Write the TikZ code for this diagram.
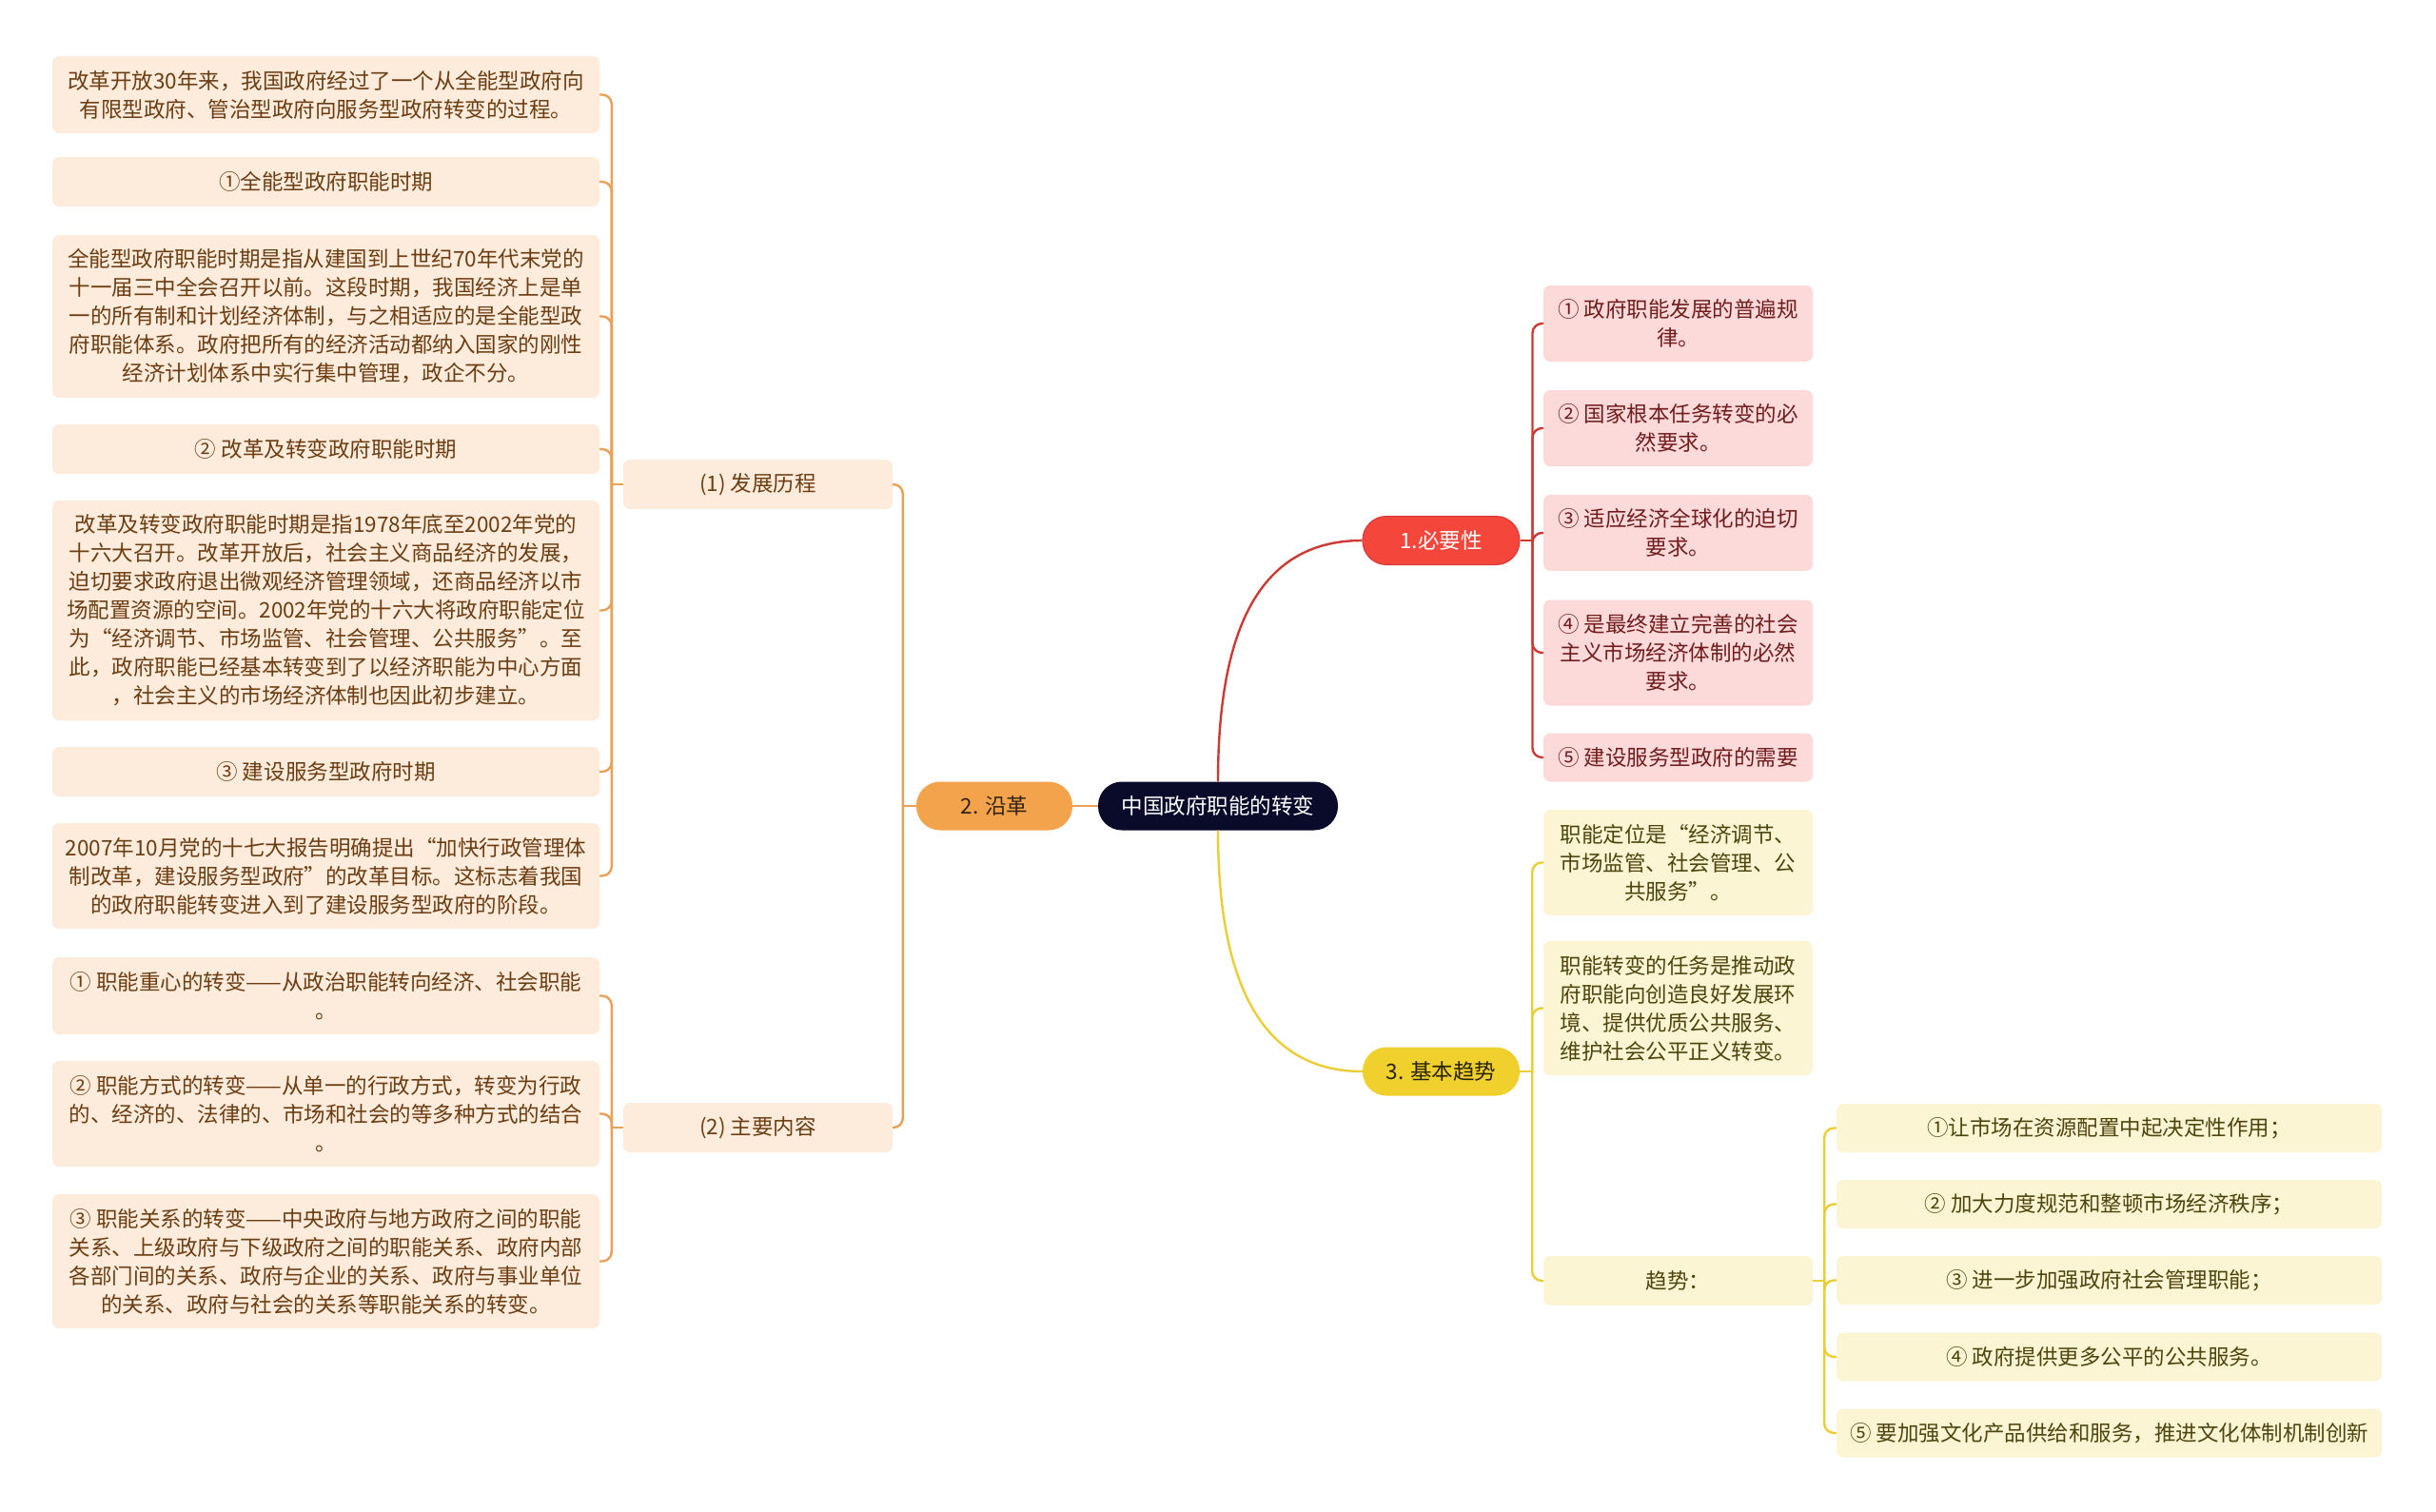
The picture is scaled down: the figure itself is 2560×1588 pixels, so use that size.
\documentclass[tikz,border=0pt]{standalone}
\usepackage{fontspec}
\setmainfont{Noto Sans CJK SC}
\definecolor{peach}{RGB}{253,236,220}
\definecolor{peachtxt}{RGB}{108,60,18}
\definecolor{orline}{RGB}{234,160,86}
\definecolor{pinkbox}{RGB}{252,218,218}
\definecolor{pinktxt}{RGB}{112,28,28}
\definecolor{redline}{RGB}{205,58,52}
\definecolor{creambox}{RGB}{252,245,212}
\definecolor{creamtxt}{RGB}{78,68,14}
\definecolor{yelline}{RGB}{236,206,52}
\definecolor{navy}{RGB}{10,10,42}
\definecolor{rednode}{RGB}{245,70,60}
\definecolor{ornode}{RGB}{244,163,77}
\definecolor{yelnode}{RGB}{240,208,45}
\tikzset{
  base/.style={font=\fontsize{22.5}{30}\selectfont, align=center, inner sep=0pt, anchor=center},
  lbox/.style={base, fill=peach, text=peachtxt, rounded corners=7pt, minimum width=575pt},
  midbox/.style={base, fill=peach, text=peachtxt, rounded corners=7pt, minimum width=283pt, minimum height=52pt},
  pbox/.style={base, fill=pinkbox, text=pinktxt, rounded corners=7pt, minimum width=283pt},
  ybox/.style={base, fill=creambox, text=creamtxt, rounded corners=7pt, minimum width=283pt},
  wbox/.style={base, fill=creambox, text=creamtxt, rounded corners=7pt, minimum width=573pt, minimum height=51pt},
  pill/.style={base, rounded corners=25pt, minimum height=51pt},
  orc/.style={draw=orline, line width=2.4pt, rounded corners=10pt},
  redc/.style={draw=redline, line width=2.4pt, rounded corners=10pt},
  yelc/.style={draw=yelline, line width=2.4pt, rounded corners=10pt},
}
\begin{document}
\begin{tikzpicture}[x=1pt,y=-1pt]
\fill[white] (0,0) rectangle (2560,1588);
\useasboundingbox (0,0) rectangle (2560,1588);

% center and main branches
\node[pill, fill=navy, text=white, minimum width=252pt] (ctr) at (1280,847) {中国政府职能的转变};
\node[pill, fill=ornode, text={rgb,255:red,50;green,35;blue,15}, minimum width=164pt] (yan) at (1045,847) {2. 沿革};
\node[pill, fill=rednode, draw={rgb,255:red,215;green,55;blue,50}, line width=1pt, text=white, minimum width=165pt] (nec) at (1514.5,568) {1.必要性};
\node[pill, fill=yelnode, text={rgb,255:red,40;green,35;blue,10}, minimum width=165pt] (trd) at (1514.5,1126) {3. 基本趋势};

% left mid nodes
\node[midbox] (fz) at (796.5,509) {(1) 发展历程};
\node[midbox] (zy) at (796.5,1185) {(2) 主要内容};

% left column
\node[lbox, minimum height=81pt] (b1) at (342.5,99.5) {改革开放30年来，我国政府经过了一个从全能型政府向\\有限型政府、管治型政府向服务型政府转变的过程。};
\node[lbox, minimum height=52pt] (b2) at (342.5,191) {①全能型政府职能时期};
\node[lbox, minimum height=171pt] (b3) at (342.5,332.5) {全能型政府职能时期是指从建国到上世纪70年代末党的\\十一届三中全会召开以前。这段时期，我国经济上是单\\一的所有制和计划经济体制，与之相适应的是全能型政\\府职能体系。政府把所有的经济活动都纳入国家的刚性\\经济计划体系中实行集中管理，政企不分。};
\node[lbox, minimum height=52pt] (b4) at (342.5,472) {② 改革及转变政府职能时期};
\node[lbox, minimum height=231pt] (b5) at (342.5,641.5) {改革及转变政府职能时期是指1978年底至2002年党的\\十六大召开。改革开放后，社会主义商品经济的发展，\\迫切要求政府退出微观经济管理领域，还商品经济以市\\场配置资源的空间。2002年党的十六大将政府职能定位\\为“经济调节、市场监管、社会管理、公共服务”。至\\此，政府职能已经基本转变到了以经济职能为中心方面\\，社会主义的市场经济体制也因此初步建立。};
\node[lbox, minimum height=52pt] (b6) at (342.5,811) {③ 建设服务型政府时期};
\node[lbox, minimum height=111pt] (b7) at (342.5,920.5) {2007年10月党的十七大报告明确提出“加快行政管理体\\制改革，建设服务型政府”的改革目标。这标志着我国\\的政府职能转变进入到了建设服务型政府的阶段。};
\node[lbox, minimum height=81pt] (b8) at (342.5,1046.5) {① 职能重心的转变——从政治职能转向经济、社会职能\\。};
\node[lbox, minimum height=111pt] (b9) at (342.5,1170.5) {② 职能方式的转变——从单一的行政方式，转变为行政\\的、经济的、法律的、市场和社会的等多种方式的结合\\。};
\node[lbox, minimum height=141pt] (b10) at (342.5,1325.5) {③ 职能关系的转变——中央政府与地方政府之间的职能\\关系、上级政府与下级政府之间的职能关系、政府内部\\各部门间的关系、政府与企业的关系、政府与事业单位\\的关系、政府与社会的关系等职能关系的转变。};

% pink column
\node[pbox, minimum height=80pt] (pa) at (1763.5,340) {① 政府职能发展的普遍规\\律。};
\node[pbox, minimum height=80pt] (pb) at (1763.5,450) {② 国家根本任务转变的必\\然要求。};
\node[pbox, minimum height=80pt] (pc) at (1763.5,560) {③ 适应经济全球化的迫切\\要求。};
\node[pbox, minimum height=111pt] (pd) at (1763.5,686) {④ 是最终建立完善的社会\\主义市场经济体制的必然\\要求。};
\node[pbox, minimum height=51pt] (pe) at (1763.5,796) {⑤ 建设服务型政府的需要};

% yellow column
\node[ybox, minimum height=111pt] (yf) at (1763.5,906.5) {职能定位是“经济调节、\\市场监管、社会管理、公\\共服务”。};
\node[ybox, minimum height=141pt] (yg) at (1763.5,1059.5) {职能转变的任务是推动政\\府职能向创造良好发展环\\境、提供优质公共服务、\\维护社会公平正义转变。};
\node[ybox, minimum height=52pt] (qs) at (1763.5,1346) {趋势：};

\node[wbox] (wi) at (2216.5,1185.5) {①让市场在资源配置中起决定性作用；};
\node[wbox] (wj) at (2216.5,1265.5) {② 加大力度规范和整顿市场经济秩序；};
\node[wbox] (wk) at (2216.5,1345.5) {③ 进一步加强政府社会管理职能；};
\node[wbox] (wl) at (2216.5,1426) {④ 政府提供更多公平的公共服务。};
\node[wbox] (wm) at (2216.5,1506) {⑤ 要加强文化产品供给和服务，推进文化体制机制创新};

% main connectors
\draw[draw=redline, line width=2.4pt] (ctr.north) .. controls (1280,650) and (1330,568) .. (nec.west);
\draw[draw=yelline, line width=2.4pt] (ctr.south) .. controls (1280,1040) and (1330,1126) .. (trd.west);
\draw[draw=orline, line width=2.4pt] (yan.east) -- (ctr.west);

% 2. 沿革 bracket
\draw[orc] (yan.west) -- ++(-14,0) coordinate (jy);
\foreach \c in {fz,zy} \draw[orc] (jy) |- (\c.east);
% (1) bracket
\draw[orc] (fz.west) -- ++(-12,0) coordinate (jf);
\foreach \c in {b1,b2,b3,b4,b5,b6,b7} \draw[orc] (jf) |- (\c.east);
% (2) bracket
\draw[orc] (zy.west) -- ++(-12,0) coordinate (jz);
\foreach \c in {b8,b9,b10} \draw[orc] (jz) |- (\c.east);
% 1. bracket
\draw[redc] (nec.east) -- ++(13,0) coordinate (jn);
\foreach \c in {pa,pb,pc,pd,pe} \draw[redc] (jn) |- (\c.west);
% 3. bracket
\draw[yelc] (trd.east) -- ++(13,0) coordinate (jt);
\foreach \c in {yf,yg,qs} \draw[yelc] (jt) |- (\c.west);
% trend bracket
\draw[yelc] (qs.east) -- ++(12,0) coordinate (jq);
\foreach \c in {wi,wj,wk,wl,wm} \draw[yelc] (jq) |- (\c.west);
\end{tikzpicture}
\end{document}
